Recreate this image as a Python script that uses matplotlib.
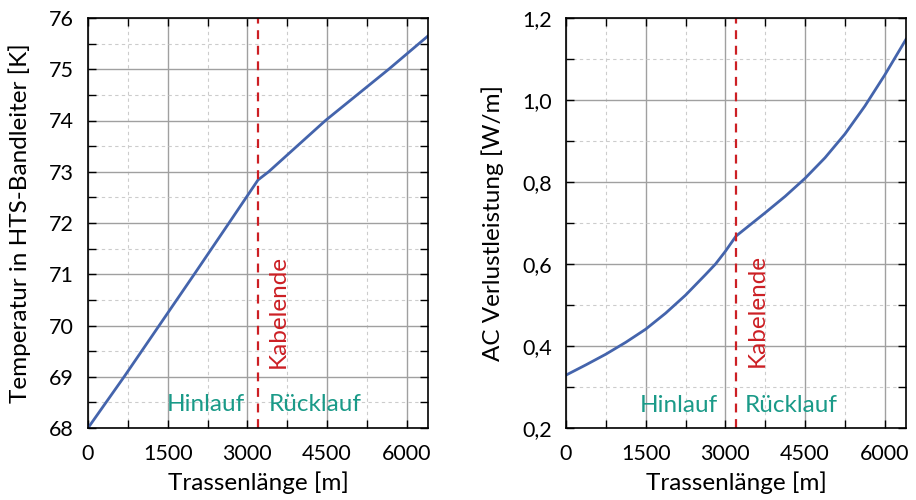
import numpy as np
import matplotlib.pyplot as plt
from matplotlib.ticker import MultipleLocator, FuncFormatter

plt.rcParams["font.family"] = ["Lato", "DejaVu Sans"]

# ── Data ──────────────────────────────────────────────────────────────────
kabelende = 3200

# Temperatur im HTS-Bandleiter [K]
x_temp = [0, 680, 1340, 2000, 2654, 3200, 3400, 4470, 5660, 6400]
temp   = [68.0, 69.0, 70.0, 71.0, 72.0, 72.84, 73.0, 74.0, 75.0, 75.65]

# AC Verlustleistung [W/m]
x_ac = [0, 375, 750, 1125, 1500, 1875, 2250, 2625, 2815, 3000, 3200,
        3750, 4125, 4500, 4875, 5250, 5625, 6000, 6400]
ac   = [0.329, 0.354, 0.380, 0.409, 0.441, 0.480, 0.524, 0.574, 0.600, 0.631, 0.668,
        0.725, 0.765, 0.809, 0.859, 0.917, 0.985, 1.061, 1.148]

line_col  = "#4464ac"
red_col   = "#cc1f24"
teal_col  = "#1a9a88"
tick_fs   = 15.5
label_fs  = 17.5
note_fs   = 17.5


def styleAxis(ax, ylim, ymajor, yminor):
    ax.set_xlim(0, 6400)
    ax.set_ylim(*ylim)
    ax.xaxis.set_major_locator(MultipleLocator(1500))
    ax.xaxis.set_minor_locator(MultipleLocator(750))
    ax.yaxis.set_major_locator(MultipleLocator(ymajor))
    ax.yaxis.set_minor_locator(MultipleLocator(yminor))
    ax.grid(True, which="major", color="#a0a0a0", linewidth=1.0, linestyle="-")
    ax.grid(True, which="minor", color="#cccccc", linewidth=0.8, linestyle=(0, (3, 3)))
    ax.set_axisbelow(True)
    ax.tick_params(which="both", direction="in", top=True, right=True,
                   length=6, width=1.0, labelsize=tick_fs)
    ax.tick_params(axis="x", which="both", pad=11.5)
    ax.tick_params(axis="y", which="both", pad=10)
    for s in ax.spines.values():
        s.set_linewidth(1.2)
    ax.set_xlabel("Trassenlänge [m]", fontsize=label_fs, labelpad=5)


fig = plt.figure(figsize=(9.16, 5), dpi=100)

# ── Left panel: temperature ───────────────────────────────────────────────
ax1 = fig.add_axes([88/916, 72/500, 340/916, 410/500])
styleAxis(ax1, (68, 76), 1, 0.5)
ax1.plot(x_temp, temp, color=line_col, linewidth=2.0)
ax1.axvline(kabelende, color=red_col, linewidth=1.6, linestyle=(0, (4, 3)))
ax1.set_ylabel("Temperatur in HTS-Bandleiter [K]", fontsize=label_fs, labelpad=13)
ax1.text(2960, 68.45, "Hinlauf", color=teal_col, fontsize=note_fs,
         ha="right", va="center")
ax1.text(3400, 68.45, "Rücklauf", color=teal_col, fontsize=note_fs,
         ha="left", va="center")
ax1.text(3590, 69.17, "Kabelende", color=red_col, fontsize=note_fs,
         rotation=90, ha="center", va="bottom")

# ── Right panel: AC losses ────────────────────────────────────────────────
ax2 = fig.add_axes([566/916, 72/500, 340/916, 410/500])
styleAxis(ax2, (0.2, 1.2), 0.2, 0.1)
ax2.yaxis.set_major_formatter(FuncFormatter(lambda v, p: f"{v:.1f}".replace(".", ",")))
ax2.plot(x_ac, ac, color=line_col, linewidth=2.0)
ax2.axvline(kabelende, color=red_col, linewidth=1.6, linestyle=(0, (4, 3)))
ax2.set_ylabel("AC Verlustleistung [W/m]", fontsize=label_fs, labelpad=13)
ax2.text(2860, 0.256, "Hinlauf", color=teal_col, fontsize=note_fs,
         ha="right", va="center")
ax2.text(3370, 0.256, "Rücklauf", color=teal_col, fontsize=note_fs,
         ha="left", va="center")
ax2.text(3600, 0.349, "Kabelende", color=red_col, fontsize=note_fs,
         rotation=90, ha="center", va="bottom")

plt.savefig("out.png", dpi=100)
